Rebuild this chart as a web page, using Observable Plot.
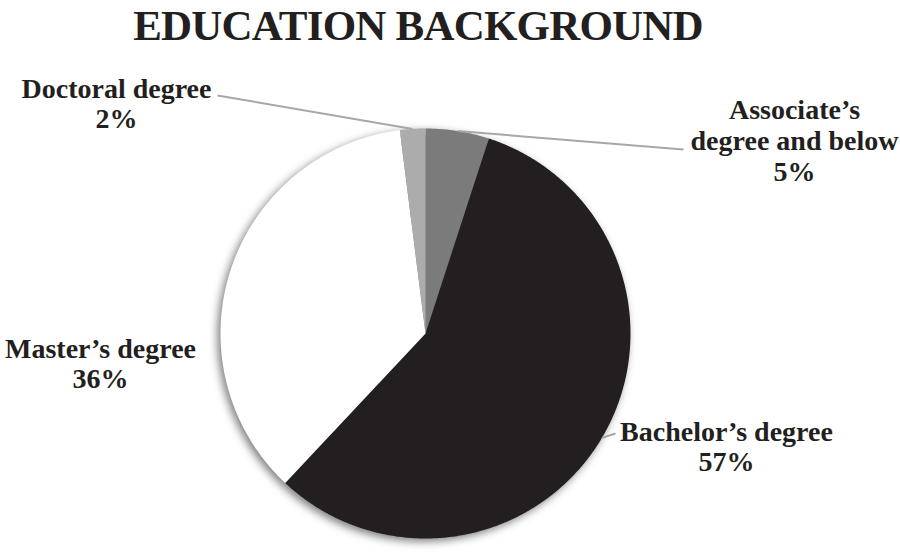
<!DOCTYPE html>
<html>
<head>
<meta charset="utf-8">
<script src="https://cdn.jsdelivr.net/npm/d3@7"></script>
<script src="https://cdn.jsdelivr.net/npm/@observablehq/plot@0.6"></script>
<style>
  html, body { margin: 0; padding: 0; background: #fff; }
  #wrap { position: relative; width: 900px; height: 556px; overflow: hidden; }
  #chart { position: absolute; left: 0; top: 0; }
</style>
</head>
<body>
<div id="wrap">
  <div id="chart"></div>
</div>
<script>
// ---- data ----
const title = ["EDUCATION BACKGROUND"];
const categories = ["Associate’s degree and below", "Bachelor’s degree", "Master’s degree", "Doctoral degree"];
const values = [5, 57, 36, 2];
const labelLines = [
  "Associate’s\ndegree and below\n5%",
  "Bachelor’s degree\n57%",
  "Master’s degree\n36%",
  "Doctoral degree\n2%"
];
const colors = ["#7b7b7c", "#231f20", "#ffffff", "#acacac"];

// ---- layout (pixels) ----
const W = 900, H = 556;
const CX = 425, CY = 333, R = 205;
const X = px => (px - CX) / R;
const Y = py => (CY - py) / R;
// label anchor (center x, cap-top y) and leader end
const labelPos = [
  {x: 794, y: 96,  lh: 1.12, end: [683, 149]},
  {x: 726, y: 419, lh: 1.07, end: [615, 433]},
  {x: 100, y: 336, lh: 1.07, end: null},
  {x: 116, y: 76,  lh: 1.07, end: [217, 95]}
];

// ---- pie geometry from data ----
const pie = d3.pie().sort(null).value(d => d.value)(
  categories.map((c, i) => ({cat: c, value: values[i], color: colors[i]}))
);
const rows = [];
pie.forEach(p => {
  const a0 = p.startAngle, a1 = p.endAngle;
  const n = Math.max(4, Math.ceil((a1 - a0) / (Math.PI / 360)));
  rows.push({cat: p.data.cat, color: p.data.color, x: 0, y: 0});
  for (let k = 0; k <= n; k++) {
    const a = a0 + (a1 - a0) * k / n;
    rows.push({cat: p.data.cat, color: p.data.color, x: Math.sin(a), y: Math.cos(a)});
  }
});

const labels = pie.map((p, i) => ({
  text: labelLines[i], x: X(labelPos[i].x), y: Y(labelPos[i].y), lh: labelPos[i].lh
}));
const leaders = pie.map((p, i) => {
  if (!labelPos[i].end) return null;
  const m = (p.startAngle + p.endAngle) / 2;
  return {x1: Math.sin(m), y1: Math.cos(m), x2: X(labelPos[i].end[0]), y2: Y(labelPos[i].end[1])};
}).filter(d => d);

const font = {fontFamily: "'Liberation Serif', 'Times New Roman', serif", fontWeight: "bold", fontSize: 28, fill: "#231f20"};

const plot = Plot.plot({
  width: W, height: H,
  margin: 0,
  x: {domain: [X(0), X(W)], range: [0, W], axis: null},
  y: {domain: [Y(H), Y(0)], range: [H, 0], axis: null},
  color: {type: "identity"},
  marks: [
    Plot.line(rows, {x: "x", y: "y", z: "cat", fill: "color", stroke: null, curve: "linear"}),
    Plot.link(leaders, {x1: "x1", y1: "y1", x2: "x2", y2: "y2", stroke: "#a7a7a7", strokeWidth: 2}),
    ...labels.map(l => Plot.text([l], {x: "x", y: "y", text: "text", textAnchor: "middle", lineAnchor: "top", lineHeight: l.lh, ...font})),
    Plot.text(title, {x: X(417.5), y: Y(39), text: d => d, textAnchor: "middle", lineAnchor: "bottom",
      fontFamily: "'Liberation Serif', 'Times New Roman', serif", fontWeight: "bold", fontSize: 43, fill: "#231f20"})
  ]
});
plot.querySelectorAll('g[aria-label="line"]').forEach(g => {
  g.style.filter = "drop-shadow(-3px 3px 4px rgba(0,0,0,0.5))";
});
plot.querySelectorAll('g[aria-label="text"] text').forEach(t => {
  if (t.textContent === title[0]) t.setAttribute("letter-spacing", "-0.8");
});
document.getElementById("chart").appendChild(plot);
</script>
</body>
</html>
